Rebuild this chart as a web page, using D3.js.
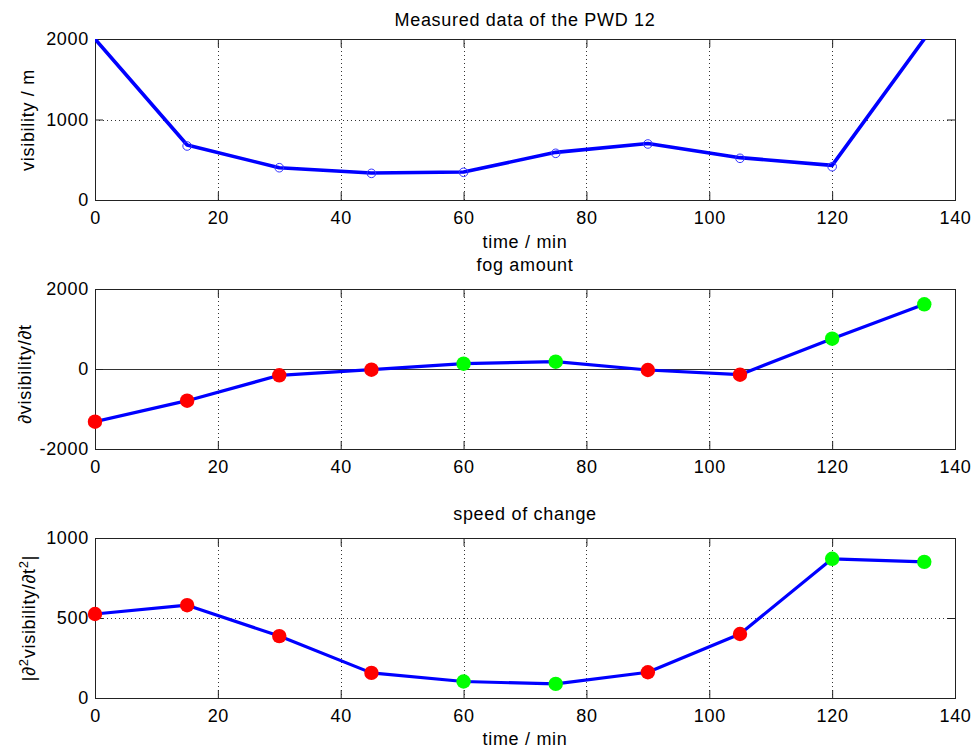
<!DOCTYPE html>
<html>
<head>
<meta charset="utf-8">
<script src="https://cdn.jsdelivr.net/npm/d3@7"></script>
<style>
  html, body { margin: 0; padding: 0; background: #fff; }
  svg { display: block; }
  text { font-family: "Liberation Sans", Arial, sans-serif; fill: #000; }
</style>
</head>
<body>
<svg id="chart" width="975" height="754"></svg>
<script>
// ---------- data ----------
const timeMin = [0, 15, 30, 45, 60, 75, 90, 105, 120, 135];
const visibilityLine = [2000, 683, 401, 336, 348, 592, 702, 526, 430, 2000];
const visibilityMeasured = [null, 671, 401, 331, 344, 580, 696, 518, 414, null];
const fogAmount = [-1317, -792, -158, -17, 133, 183, -25, -142, 758, 1617];
const speedOfChange = [525, 580, 387, 157, 103, 88, 161, 400, 870, 851];

const xTicks = [0, 20, 40, 60, 80, 100, 120, 140];
const yTicksTop = [0, 1000, 2000];
const yTicksMid = [-2000, 0, 2000];
const yTicksBot = [0, 500, 1000];

const titles = ["Measured data of the PWD 12", "fog amount", "speed of change"];

// ---------- layout ----------
const svg = d3.select("#chart");
const FONT = 18, LS = 0.7;
const x = d3.scaleLinear().domain([0, 140]).range([95, 955]);
const markerColor = i => fogAmount[i] > 0 ? "#00ff00" : "#ff0000";
const plainFmt = d => String(d);

function panel(cfg) {
  const y = d3.scaleLinear().domain(cfg.domain).range([cfg.bottom, cfg.top]);
  const g = svg.append("g");
  const clipId = "clip" + cfg.id;
  svg.append("clipPath").attr("id", clipId)
    .append("rect").attr("x", x.range()[0]).attr("y", cfg.top)
    .attr("width", x.range()[1] - x.range()[0]).attr("height", cfg.bottom - cfg.top);

  // grid
  const grid = g.append("g").attr("stroke", "#333").attr("stroke-width", 1)
    .attr("stroke-dasharray", "1,3").attr("shape-rendering", "crispEdges");
  grid.selectAll("line.v").data(xTicks.slice(1, -1)).join("line")
    .attr("x1", d => Math.round(x(d)) + 0.5).attr("x2", d => Math.round(x(d)) + 0.5)
    .attr("y1", cfg.top).attr("y2", cfg.bottom);
  grid.selectAll("line.h").data(cfg.gridY).join("line")
    .attr("y1", d => Math.round(y(d)) + 0.5).attr("y2", d => Math.round(y(d)) + 0.5)
    .attr("x1", x.range()[0]).attr("x2", x.range()[1]);

  if (cfg.zeroLine) {
    g.append("line").attr("x1", x.range()[0]).attr("x2", x.range()[1])
      .attr("y1", Math.round(y(0)) + 0.5).attr("y2", Math.round(y(0)) + 0.5)
      .attr("stroke", "#333").attr("stroke-width", 1).attr("shape-rendering", "crispEdges");
  }

  // axes (inward ticks on all four sides)
  const T = 8;
  const axB = d3.axisBottom(x).tickValues(xTicks).tickSize(-T).tickFormat(plainFmt);
  const axT = d3.axisTop(x).tickValues(xTicks).tickSize(-T).tickFormat("");
  const axL = d3.axisLeft(y).tickValues(cfg.yTicks).tickSize(-T).tickFormat(plainFmt);
  const axR = d3.axisRight(y).tickValues(cfg.yTicks).tickSize(-T).tickFormat("");
  const style = sel => {
    sel.selectAll("path").attr("stroke", "#222");
    sel.selectAll("line").attr("stroke", "#222");
    sel.selectAll("text").attr("font-size", FONT).attr("letter-spacing", LS)
      .attr("font-family", "Liberation Sans, Arial, sans-serif").attr("fill", "#000");
  };
  g.append("g").attr("transform", `translate(0,${cfg.bottom})`).call(axB).call(style)
    .selectAll("text").attr("dy", null).attr("y", 24);
  g.append("g").attr("transform", `translate(0,${cfg.top})`).call(axT).call(style);
  g.append("g").attr("transform", `translate(${x.range()[0]},0)`).call(axL).call(style)
    .selectAll("text").attr("x", -6);
  g.append("g").attr("transform", `translate(${x.range()[1]},0)`).call(axR).call(style);
  g.selectAll(".domain").attr("stroke", "#222").attr("shape-rendering", "crispEdges");

  // data
  const plot = g.append("g").attr("clip-path", `url(#${clipId})`);
  const line = d3.line().x((d, i) => x(timeMin[i])).y(d => y(d));
  plot.append("path").datum(cfg.values).attr("d", line)
    .attr("fill", "none").attr("stroke", "#0000ff").attr("stroke-width", cfg.lw)
    .attr("stroke-linejoin", "round");

  if (cfg.circles) {
    plot.selectAll("circle.m").data(cfg.circles.map((v, i) => ({v, i})).filter(d => d.v !== null))
      .join("circle").attr("cx", d => x(timeMin[d.i])).attr("cy", d => y(d.v)).attr("r", 4.3)
      .attr("fill", "none").attr("stroke", "#3333ff").attr("stroke-width", 1);
  }
  if (cfg.dots) {
    g.selectAll("circle.d").data(cfg.values.map((v, i) => ({v, i})))
      .join("circle").attr("cx", d => x(timeMin[d.i])).attr("cy", d => y(d.v)).attr("r", 7.2)
      .attr("fill", d => markerColor(d.i)).attr("stroke", "none");
  }

  // titles and labels
  svg.append("text").attr("x", 525).attr("y", cfg.titleY).attr("text-anchor", "middle")
    .attr("font-size", FONT).attr("letter-spacing", LS).text(cfg.title);
  if (cfg.xlabelY) {
    svg.append("text").attr("x", 525).attr("y", cfg.xlabelY).attr("text-anchor", "middle")
      .attr("font-size", FONT).attr("letter-spacing", LS).text("time / min");
  }
  const yl = svg.append("text").attr("transform", `translate(${cfg.ylab[0]},${cfg.ylab[1]}) rotate(-90)`)
    .attr("text-anchor", "middle").attr("font-size", FONT).attr("letter-spacing", LS);
  cfg.ylabel(yl);
}

panel({
  id: 1, top: 39, bottom: 200, domain: [0, 2000], yTicks: yTicksTop, gridY: [1000, 2000],
  values: visibilityLine, circles: visibilityMeasured, lw: 3.6,
  title: titles[0], titleY: 26, xlabelY: 248, ylab: [34, 120],
  ylabel: t => t.text("visibility / m")
});
panel({
  id: 2, top: 289, bottom: 449, domain: [-2000, 2000], yTicks: yTicksMid, gridY: [], zeroLine: true,
  values: fogAmount, dots: true, lw: 3.2,
  title: titles[1], titleY: 271, xlabelY: null, ylab: [31, 374],
  ylabel: t => t.text("\u2202visibility/\u2202t")
});
panel({
  id: 3, top: 538, bottom: 698, domain: [0, 1000], yTicks: yTicksBot, gridY: [500],
  values: speedOfChange, dots: true, lw: 3.2,
  title: titles[2], titleY: 520, xlabelY: 745, ylab: [35, 618],
  ylabel: t => {
    t.append("tspan").text("|\u2202");
    t.append("tspan").attr("font-size", 13).attr("dy", -7).text("2");
    t.append("tspan").attr("dy", 7).text("visibility/\u2202t");
    t.append("tspan").attr("font-size", 13).attr("dy", -7).text("2");
    t.append("tspan").attr("dy", 7).text("|");
  }
});
</script>
</body>
</html>
